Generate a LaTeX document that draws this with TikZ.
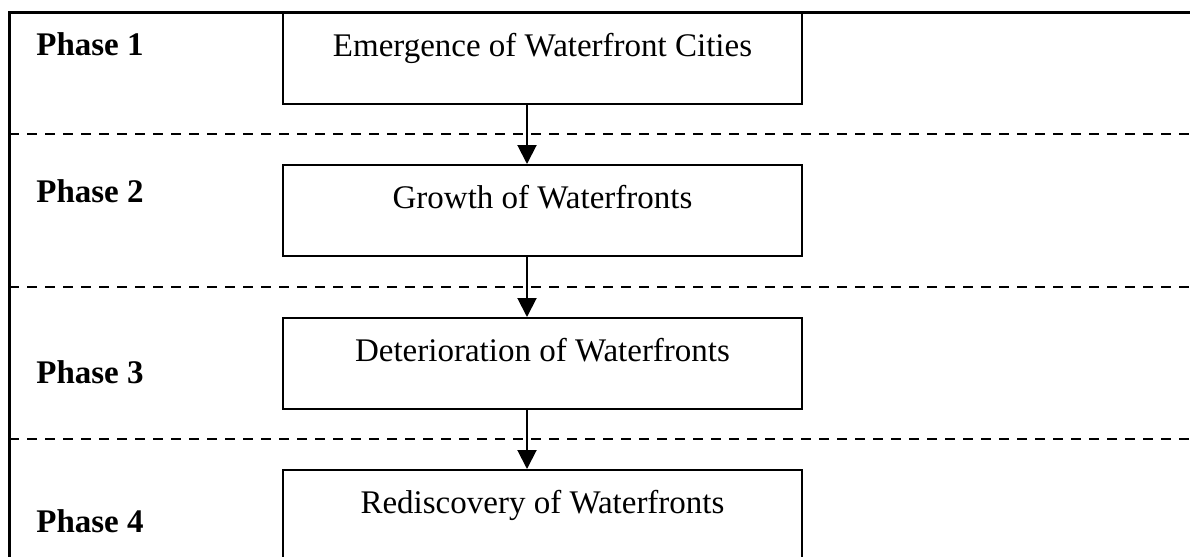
\documentclass[tikz,border=0pt]{standalone}
\usepackage{fontspec}
\setmainfont{Liberation Serif}
\usetikzlibrary{arrows.meta}
\begin{document}
\begin{tikzpicture}[x=0.5pt,y=-0.5pt,
  phasebox/.style={draw, line width=1pt, minimum width=259.5pt, inner sep=0pt,
    text height=21.5pt, text depth=24pt, font=\fontsize{16.5}{19}\selectfont},
  phaselabel/.style={anchor=base west, inner sep=0pt, font=\fontsize{16.5}{19}\selectfont\bfseries},
  sep/.style={dashed, line width=1.2pt, dash pattern=on 5pt off 4pt},
  frame/.style={line width=1.5pt},
  flow/.style={line width=1pt, -{Triangle[length=9.5pt,width=9.5pt]}}
]
\useasboundingbox (0,0) rectangle (1190,557);
% phase boxes (anchor north at box top)
\node[phasebox, anchor=north] (b1) at (542.5,12) {Emergence of Waterfront Cities};
\node[phasebox, anchor=north] (b2) at (542.5,164) {Growth of Waterfronts};
\node[phasebox, anchor=north] (b3) at (542.5,317) {Deterioration of Waterfronts};
\node[phasebox, anchor=north] (b4) at (542.5,469) {Rediscovery of Waterfronts};
% frame
\coordinate (tl) at (9,12);
\coordinate (tr) at (1190,12);
\coordinate (bl) at (9,557);
\draw[frame] (tr) -- (tl) -- (bl);
% dashed separators
\coordinate (s1l) at (9,134); \coordinate (s1r) at (1190,134);
\coordinate (s2l) at (9,287); \coordinate (s2r) at (1190,287);
\coordinate (s3l) at (9,439); \coordinate (s3r) at (1190,439);
\draw[sep] (s1l) -- (s1r);
\draw[sep] (s2l) -- (s2r);
\draw[sep] (s3l) -- (s3r);
% phase labels
\node[phaselabel] (p1) at (36,55) {Phase 1};
\node[phaselabel] (p2) at (36,202) {Phase 2};
\node[phaselabel] (p3) at (36,383) {Phase 3};
\node[phaselabel] (p4) at (36,532) {Phase 4};
% arrows
\draw[flow] ([xshift=-7.75pt]b1.south) -- ([xshift=-7.75pt]b2.north);
\draw[flow] ([xshift=-7.75pt]b2.south) -- ([xshift=-7.75pt]b3.north);
\draw[flow] ([xshift=-7.75pt]b3.south) -- ([xshift=-7.75pt]b4.north);
\end{tikzpicture}
\end{document}
